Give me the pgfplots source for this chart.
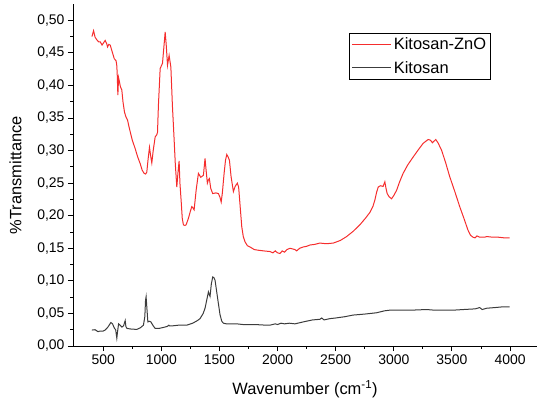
\documentclass[border=0pt]{standalone}
\usepackage{fontspec}
\setmainfont{Liberation Sans}
\usepackage{pgfplots}
\pgfplotsset{compat=1.18}
\definecolor{redline}{RGB}{245,45,45}
\definecolor{blackline}{RGB}{60,60,60}
\begin{document}
\begin{tikzpicture}
\begin{axis}[
  scale only axis,
  width=464bp, height=342bp,
  xmin=240, xmax=4232,
  ymin=0, ymax=0.525,
  axis lines=left,
  axis line style={-, line width=0.9bp},
  every tick/.style={black, line width=0.9bp},
  tick align=outside,
  major tick length=5bp,
  minor tick length=2.7bp,
  xtick={500,1000,...,4000},
  ytick={0,0.05,...,0.51},
  minor tick num=1,
  /pgf/number format/assume math mode=true,
  yticklabel style={/pgf/number format/.cd, use comma, fixed, fixed zerofill, precision=2},
  xticklabel style={/pgf/number format/.cd, 1000 sep={}},
  tick label style={font=\fontsize{14}{16}\selectfont},
  label style={font=\fontsize{16.5}{19}\selectfont},
  xlabel={Wavenumber (cm\textsuperscript{-1})},
  ylabel={\%Transmittance},
  xlabel shift=9bp,
  ylabel shift=9bp,
  legend style={at={(0.595,0.915)}, anchor=north west, draw=black, line width=0.6bp,
     font=\fontsize{16.5}{18}\selectfont, inner sep=2.5bp, row sep=6bp},
  legend cell align=left,
  legend image code/.code={\draw[#1] (0bp,0bp) -- (39bp,0bp);},
]
\addplot[redline, line width=1bp] coordinates {
(403,0.475)(417,0.484)(430,0.474)(445,0.470)(460,0.467)(474,0.467)(490,0.462)(505,0.466)
(517,0.469)(530,0.464)(537,0.459)(548,0.463)(560,0.462)(575,0.453)(595,0.441)(610,0.438)
(616,0.432)(620,0.420)(626,0.385)(632,0.412)(637,0.408)(648,0.398)(660,0.393)(670,0.375)
(683,0.359)(695,0.352)(709,0.347)(720,0.338)(732,0.329)(750,0.316)(775,0.303)(795,0.291)
(818,0.280)(835,0.270)(852,0.265)(865,0.264)(875,0.267)(885,0.285)(898,0.305)(908,0.292)
(918,0.281)(930,0.300)(947,0.321)(960,0.324)(967,0.328)(975,0.370)(990,0.426)(1010,0.434)
(1020,0.455)(1033,0.482)(1043,0.460)(1053,0.431)(1067,0.446)(1082,0.428)(1095,0.370)(1110,0.317)
(1120,0.280)(1133,0.244)(1145,0.270)(1153,0.284)(1160,0.250)(1170,0.224)(1180,0.196)(1190,0.186)
(1203,0.185)(1213,0.186)(1233,0.196)(1250,0.207)(1262,0.214)(1272,0.212)(1282,0.209)(1300,0.240)
(1319,0.265)(1339,0.259)(1362,0.262)(1376,0.288)(1385,0.270)(1396,0.250)(1405,0.255)(1413,0.257)
(1425,0.242)(1442,0.234)(1470,0.235)(1491,0.234)(1505,0.228)(1515,0.221)(1525,0.235)(1540,0.265)
(1552,0.285)(1563,0.294)(1575,0.290)(1586,0.285)(1600,0.260)(1620,0.237)(1635,0.245)(1654,0.250)
(1665,0.244)(1680,0.210)(1692,0.183)(1705,0.168)(1720,0.160)(1740,0.154)(1763,0.152)(1800,0.148)
(1835,0.147)(1880,0.146)(1935,0.145)(1960,0.143)(1980,0.146)(2000,0.143)(2021,0.142)(2040,0.146)
(2060,0.144)(2080,0.148)(2107,0.150)(2130,0.149)(2150,0.148)(2164,0.146)(2190,0.150)(2220,0.152)
(2250,0.153)(2278,0.155)(2320,0.156)(2364,0.158)(2420,0.157)(2479,0.158)(2540,0.162)(2594,0.168)
(2650,0.176)(2708,0.186)(2760,0.197)(2794,0.205)(2820,0.214)(2837,0.224)(2852,0.236)(2866,0.244)
(2885,0.246)(2908,0.245)(2923,0.252)(2933,0.242)(2943,0.234)(2960,0.229)(2981,0.226)(3000,0.231)
(3024,0.239)(3050,0.252)(3080,0.265)(3120,0.278)(3166,0.290)(3210,0.301)(3252,0.311)(3295,0.317)
(3315,0.316)(3332,0.312)(3361,0.317)(3380,0.312)(3410,0.301)(3445,0.282)(3481,0.260)(3525,0.237)
(3567,0.214)(3605,0.195)(3638,0.178)(3660,0.170)(3681,0.167)(3700,0.166)(3715,0.169)(3739,0.167)
(3780,0.167)(3800,0.168)(3853,0.167)(3900,0.167)(3950,0.166)(3997,0.166)
};
\addlegendentry{Kitosan-ZnO}
\addplot[blackline, line width=1bp] coordinates {
(403,0.0245)(430,0.025)(455,0.022)(474,0.023)(500,0.023)(517,0.0245)(540,0.029)(566,0.036)
(580,0.034)(597,0.027)(607,0.025)(617,0.012)(622,0.020)(632,0.034)(645,0.032)(661,0.029)
(675,0.031)(689,0.039)(695,0.030)(704,0.027)(740,0.026)(789,0.0255)(820,0.028)(846,0.032)
(858,0.045)(864,0.070)(869,0.0756)(875,0.060)(884,0.037)(897,0.038)(910,0.037)(930,0.031)
(947,0.027)(980,0.027)(1018,0.0285)(1050,0.030)(1065,0.032)(1070,0.031)(1100,0.031)(1150,0.032)
(1219,0.032)(1270,0.035)(1310,0.039)(1333,0.042)(1360,0.050)(1376,0.058)(1390,0.070)(1405,0.083)
(1412,0.079)(1419,0.076)(1430,0.095)(1442,0.106)(1452,0.105)(1462,0.101)(1475,0.085)(1491,0.065)
(1505,0.048)(1520,0.038)(1534,0.035)(1560,0.034)(1600,0.034)(1649,0.034)(1700,0.033)(1800,0.033)
(1900,0.032)(1935,0.032)(1980,0.034)(2000,0.033)(2030,0.035)(2060,0.034)(2100,0.035)(2150,0.034)
(2221,0.037)(2300,0.040)(2364,0.041)(2380,0.043)(2400,0.040)(2450,0.042)(2500,0.043)(2580,0.045)
(2650,0.0475)(2750,0.049)(2851,0.051)(2920,0.054)(2966,0.055)(3050,0.055)(3150,0.055)(3281,0.056)
(3350,0.055)(3450,0.055)(3510,0.055)(3600,0.056)(3700,0.057)(3739,0.059)(3760,0.056)(3800,0.058)
(3870,0.059)(3930,0.060)(3997,0.060)
};
\addlegendentry{Kitosan}
\end{axis}
\pgfresetboundingbox
\path ([shift={(-73bp,-62bp)}]current axis.south west) rectangle ([shift={(0bp,4bp)}]current axis.north east);
\end{tikzpicture}
\end{document}
